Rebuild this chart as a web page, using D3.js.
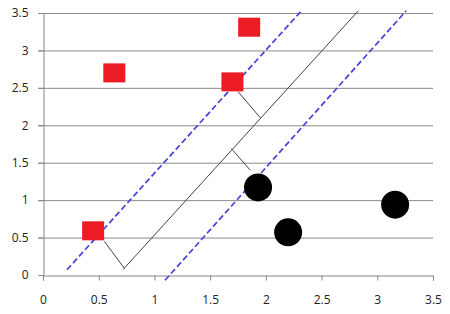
<!DOCTYPE html>
<html>
<head>
<meta charset="utf-8">
<script src="https://cdn.jsdelivr.net/npm/d3@7"></script>
<style>
  body { margin: 0; background: #fff; }
  .tick text { font-family: "Open Sans", sans-serif; font-size: 12px; fill: #222; }
</style>
</head>
<body>
<svg id="chart"></svg>
<script>
// DATA
var squaresX = [0.64, 1.85, 1.70, 0.45];
var squaresY = [2.70, 3.31, 2.58, 0.59];

var circlesX = [1.93, 2.20, 3.16];
var circlesY = [1.17, 0.57, 0.94];

// separating line and the two margins, as [x, y] end points
var solidLine   = [[0.72, 0.075], [2.83, 3.53]];
var dashedUpper = [[0.215, 0.07], [2.32, 3.53]];
var dashedLower = [[1.095, -0.07], [3.26, 3.53]];

// distance segments from the support vectors to the line
var supportSegs = [
  [[0.55, 0.45], [0.73, 0.09]],
  [[1.75, 2.45], [1.95, 2.10]],
  [[1.69, 1.69], [1.86, 1.40]]
];

var tickValues = [0, 0.5, 1, 1.5, 2, 2.5, 3, 3.5];

// DRAWING AREA
var width = 450, height = 314;
var margin = {top: 13, right: 17, bottom: 39, left: 43};
var w = width - margin.left - margin.right;
var h = height - margin.top - margin.bottom;

var svg = d3.select("#chart")
  .attr("width", width)
  .attr("height", height);

var chart = svg.append("g")
  .attr("transform", "translate(" + margin.left + "," + margin.top + ")");

var x = d3.scaleLinear().domain([0, 3.5]).range([0, w]);
var y = d3.scaleLinear().domain([0, 3.5]).range([h, 0]);

// horizontal gridlines
chart.append("g")
  .selectAll("line.grid")
  .data(tickValues.slice(1))
  .enter()
  .append("line")
  .attr("class", "grid")
  .attr("x1", -5)
  .attr("x2", w)
  .attr("y1", d => y(d) + 0.5)
  .attr("y2", d => y(d) + 0.5)
  .style("stroke", "#8a8a8a")
  .style("stroke-width", 1);

// axes
var yAxis = chart.append("g")
  .attr("transform", "translate(0.5,0)")
  .call(d3.axisLeft(y).tickValues(tickValues).tickFormat(d3.format("")).tickSize(5).tickPadding(10));

var xAxis = chart.append("g")
  .attr("transform", "translate(0," + (h + 0.5) + ")")
  .call(d3.axisBottom(x).tickValues(tickValues).tickFormat(d3.format("")).tickSize(5).tickPadding(15));

[yAxis, xAxis].forEach(a => {
  a.select(".domain").style("stroke", "#868686");
  a.selectAll(".tick line").style("stroke", "#868686");
});

var line = d3.line().x(d => x(d[0])).y(d => y(d[1]));

// dashed margins
[dashedUpper, dashedLower].forEach(l => {
  chart.append("path")
    .attr("d", line(l))
    .style("fill", "none")
    .style("stroke", "#4343dc")
    .style("stroke-width", 1.7)
    .style("stroke-dasharray", "6,3");
});

// separating line
chart.append("path")
  .attr("d", line(solidLine))
  .style("fill", "none")
  .style("stroke", "#444")
  .style("stroke-width", 1);

chart.selectAll("path.seg")
  .data(supportSegs)
  .enter()
  .append("path")
  .attr("class", "seg")
  .attr("d", d => line(d))
  .style("fill", "none")
  .style("stroke", "#444")
  .style("stroke-width", 1);

// red squares
var sqW = 22, sqH = 19;
chart.selectAll("rect.sq")
  .data(squaresX)
  .enter()
  .append("rect")
  .attr("class", "sq")
  .attr("x", (d, i) => x(d) - sqW / 2)
  .attr("y", (d, i) => y(squaresY[i]) - sqH / 2)
  .attr("width", sqW)
  .attr("height", sqH)
  .style("fill", "#ec1c24");

// black circles
chart.selectAll("circle.pt")
  .data(circlesX)
  .enter()
  .append("circle")
  .attr("class", "pt")
  .attr("cx", d => x(d))
  .attr("cy", (d, i) => y(circlesY[i]))
  .attr("r", 14)
  .style("fill", "#000");
</script>
</body>
</html>
